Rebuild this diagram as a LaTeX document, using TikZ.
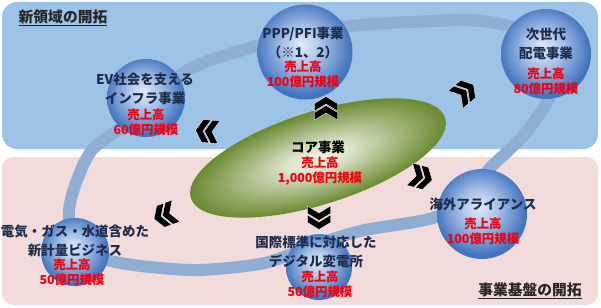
\documentclass[tikz,border=0pt]{standalone}
\usepackage{fontspec}
\setmainfont{Noto Sans CJK JP}
\usepackage{tikz}
\usetikzlibrary{shapes.geometric}
\definecolor{bizSky}{HTML}{9DC3E6}
\definecolor{bizRose}{HTML}{F2DCDB}
\definecolor{bizRing}{HTML}{8FAED3}
\definecolor{bizNavy}{HTML}{1F2D4D}
\definecolor{bizRed}{HTML}{F2000F}
\definecolor{bizOlive}{HTML}{6A8A30}
\definecolor{bizCream}{HTML}{EEF1E2}
\definecolor{bizBallIn}{HTML}{E2ECF7}
\definecolor{bizBallMid}{HTML}{A9C4E8}
\definecolor{bizBallOut}{HTML}{4374BE}
\pgfdeclareradialshading{bizball}{\pgfpoint{-2bp}{4bp}}{color(0bp)=(bizBallIn); color(10bp)=(bizBallMid); color(25bp)=(bizBallOut); color(50bp)=(bizBallOut)}
\pgfdeclareradialshading{bizcore}{\pgfpoint{0bp}{0bp}}{color(0bp)=(bizCream); color(6bp)=(bizCream!88!bizOlive); color(25bp)=(bizOlive); color(50bp)=(bizOlive)}
\tikzset{
  bizball/.style={
    circle,
    shading=bizball,
    inner sep=0pt
  },
  corebiz/.style={
    ellipse,
    shading=bizcore,
    inner sep=0pt,
    minimum width=8cm,
    minimum height=2.78cm
  },
  bizlabel/.style={
    text=bizNavy,
    align=center,
    inner sep=0pt,
    font=\bfseries\fontsize{11.5}{16.2}\selectfont
  },
  bizsales/.style={
    text=bizRed,
    align=center,
    inner sep=0pt,
    font=\bfseries\fontsize{10.6}{12.8}\selectfont
  },
  fieldlabel/.style={
    text=black!85,
    inner sep=0pt,
    font=\bfseries\fontsize{12.6}{15}\selectfont
  },
  ring/.style={draw=bizRing, line width=0.36cm},
  chev/.pic={
    \foreach \d in {-9,0}
      \filldraw[fill=black, draw=white, line width=0.3pt, shift={(\d,0)}]
        (-6,-11.5) -- (1.5,-11.5) -- (8.5,0) -- (1.5,11.5) -- (-6,11.5) -- (1,0) -- cycle;
  }
}
\begin{document}
\begin{tikzpicture}[x=0.03cm, y=-0.03cm]
  \useasboundingbox (0,0) rectangle (601,307);
  \fill[bizSky, rounded corners=0.45cm] (2,2) rectangle (598,149);
  \fill[bizRose, rounded corners=0.35cm] (2,157) rectangle (598,305);

  \draw[ring] plot[smooth cycle] coordinates {
    (92,150) (77,180) (69,210) (72,238) (88,254) (115,262) (150,267) (200,270)
    (260,264) (295,253) (330,240) (365,230) (433,218) (465,198) (490,168) (507,152)
    (528,130) (548,100) (553,70) (538,40) (510,26) (470,20) (433,21) (390,23)
    (352,26) (300,35) (253,47) (200,64) (170,82) (146,103) (120,128)};

  \begin{scope}[transform canvas={rotate around={17.5:(318,158)}}]
    \node[corebiz] (core) at (318,158) {};
  \end{scope}

  \node[bizball, minimum size=2.85cm] (ppp) at (305,52) {};
  \node[bizball, minimum size=2.7cm] (nextgrid) at (546,54) {};
  \node[bizball, minimum size=2.34cm] (evinfra) at (146,98) {};
  \node[bizball, minimum size=2.04cm] (metering) at (75,252) {};
  \node[bizball, minimum size=1.98cm] (substation) at (319,267) {};
  \node[bizball, minimum size=2.7cm] (alliance) at (482,214) {};

  \node[fieldlabel] (newfield) at (63,18) {\underline{新領域の開拓}};
  \node[fieldlabel] (basefield) at (530,291) {\underline{事業基盤の開拓}};

  \node[bizlabel, text=black] (coreText) at (318,147) {コア事業};
  \node[bizsales] (coreSales) at (320,171.5) {売上高\\1,000億円規模};

  \node[bizlabel] (pppText) at (303,42.5) {PPP/PFI事業\\（※1、2）};
  \node[bizsales] (pppSales) at (303,74.5) {売上高\\100億円規模};

  \node[bizlabel] (nextgridText) at (546,44) {次世代\\配電事業};
  \node[bizsales] (nextgridSales) at (546,81.5) {売上高\\80億円規模};

  \node[bizlabel] (evinfraText) at (145,88.5) {EV社会を支える\\インフラ事業};
  \node[bizsales] (evinfraSales) at (146,122) {売上高\\60億円規模};

  \node[bizlabel] (meteringText) at (75,241) {電気・ガス・水道含めた\\新計量ビジネス};
  \node[bizsales] (meteringSales) at (72,272.5) {売上高\\50億円規模};

  \node[bizlabel] (substationText) at (316,252) {国際標準に対応した\\デジタル変電所};
  \node[bizsales] (substationSales) at (320,284) {売上高\\50億円規模};

  \node[bizlabel] (allianceText) at (483,204) {海外アライアンス};
  \node[bizsales] (allianceSales) at (483,231.5) {売上高\\100億円規模};

  \pic[rotate=90] (toPpp) at (326,105) {chev};
  \pic[rotate=40] (toNextgrid) at (467,90) {chev};
  \pic[rotate=175] (toEvinfra) at (204,131) {chev};
  \pic[rotate=200] (toMetering) at (162,216) {chev};
  \pic[rotate=270] (toSubstation) at (319,221) {chev};
  \pic[rotate=-15] (toAlliance) at (424,178) {chev};
\end{tikzpicture}
\end{document}
